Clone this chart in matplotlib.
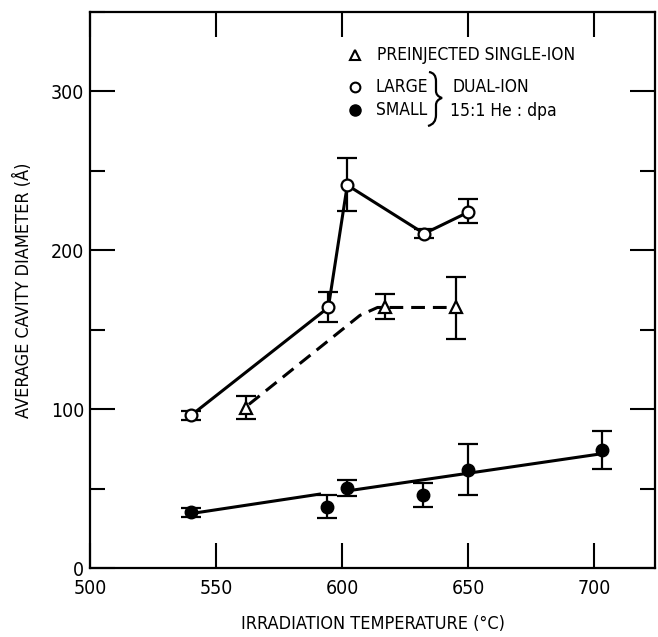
import numpy as np
import matplotlib
matplotlib.use("Agg")
import matplotlib.pyplot as plt
from matplotlib.path import Path
from matplotlib.patches import PathPatch
from matplotlib.ticker import MultipleLocator

plt.rcParams['font.family'] = ['DejaVu Sans']
plt.rcParams['font.stretch'] = 'condensed'

# preinjected single-ion (open triangles)
pre_T = [562, 617, 645]
pre_D = [101, 164.5, 164]
pre_err = [[7, 8, 20], [7, 8, 19]]
pre_curve_T = [563, 607, 614, 644]
pre_curve_D = [103, 159, 164, 164]

# dual-ion, large cavities (open circles)
large_T = [540, 594.5, 602, 632.5, 650]
large_D = [96, 164, 241, 210.5, 224]
large_err = [[3, 9, 16, 3, 7], [3, 10, 17, 3, 8]]

# dual-ion, small cavities (filled circles) and their straight-line fit
small_T = [540, 594, 602, 632, 650, 703]
small_D = [35, 38.5, 50.5, 46, 62, 74]
small_err = [[3, 7, 5, 7.5, 16, 11.5], [3, 7.5, 5, 7.5, 16, 12]]
small_fit_T = [541, 591, np.nan, 604, 701]
small_fit_D = [34.5, 46.5, np.nan, 49, 71.5]

x_ticks = [500, 550, 600, 650, 700]
y_ticks = [0, 100, 200, 300]

fig = plt.figure(figsize=(6.58, 6.37), dpi=100)
ax = fig.add_axes([0.1368, 0.1083, 0.9954 - 0.1368, 0.9812 - 0.1083])

lw = 2.2
ax.plot(large_T, large_D, '-', color='k', lw=lw, zorder=2)
ax.plot(pre_curve_T, pre_curve_D, '-', color='k', lw=lw, dashes=(4.5, 2.6), zorder=2)
ax.plot(small_fit_T, small_fit_D, '-', color='k', lw=lw, zorder=2)

ekw = dict(fmt='none', ecolor='k', elinewidth=1.6, capsize=7, capthick=1.6, zorder=3)
ax.errorbar(pre_T, pre_D, yerr=pre_err, **ekw)
ax.errorbar(large_T, large_D, yerr=large_err, **ekw)
ax.errorbar(small_T, small_D, yerr=small_err, **ekw)

ax.plot(pre_T, pre_D, '^', ms=8.5, mfc='white', mec='k', mew=1.6, ls='none', zorder=4)
ax.plot(large_T, large_D, 'o', ms=8.5, mfc='white', mec='k', mew=1.6, ls='none', zorder=4)
ax.plot(small_T, small_D, 'o', ms=9, mfc='k', mec='k', ls='none', zorder=4)

ax.set_xlim(500, 724)
ax.set_ylim(0, 350)
ax.set_xticks(x_ticks)
ax.set_yticks(y_ticks)
ax.yaxis.set_minor_locator(MultipleLocator(50))
ax.tick_params(which='both', direction='in', top=True, right=True, width=1.5)
ax.tick_params(which='major', length=18, labelsize=14)
ax.tick_params(which='minor', length=11)
ax.tick_params(axis='x', pad=8)
ax.tick_params(axis='y', pad=4)
for s in ax.spines.values():
    s.set_linewidth(1.6)

ax.set_xlabel('IRRADIATION TEMPERATURE (°C)', fontsize=13, labelpad=12)
ax.set_ylabel('AVERAGE CAVITY DIAMETER (Å)', fontsize=13, labelpad=13)

# key drawn inside the axes, with a brace joining the two dual-ion entries
tr = ax.transAxes
ax.plot([0.469], [0.923], '^', ms=7, mfc='white', mec='k', mew=1.5, transform=tr)
ax.plot([0.469], [0.865], 'o', ms=7, mfc='white', mec='k', mew=1.5, transform=tr)
ax.plot([0.469], [0.824], 'o', ms=8, mfc='k', mec='k', transform=tr)
ax.text(0.508, 0.923, 'PREINJECTED SINGLE-ION', fontsize=12.5, va='center', transform=tr)
ax.text(0.506, 0.865, 'LARGE', fontsize=12.5, va='center', transform=tr)
ax.text(0.506, 0.824, 'SMALL', fontsize=12.5, va='center', transform=tr)
ax.text(0.641, 0.865, 'DUAL-ION', fontsize=12.5, va='center', transform=tr)
ax.text(0.637, 0.822, '15:1 He : dpa', fontsize=12.5, va='center', transform=tr)


def px(x, y):
    # pixel position inside the plot frame -> axes fraction
    return ((x - 90) / 565.0, (568 - y) / 556.0)


brace = [px(429, 72), px(436, 73), px(436, 81),
         px(436, 91), px(436, 96), px(442, 98),
         px(436, 100), px(436, 105), px(436, 115),
         px(436, 124), px(428, 126)]
codes = [Path.MOVETO, Path.CURVE3, Path.CURVE3,
         Path.LINETO, Path.CURVE3, Path.CURVE3,
         Path.CURVE3, Path.CURVE3, Path.LINETO,
         Path.CURVE3, Path.CURVE3]
ax.add_patch(PathPatch(Path(brace, codes), fc='none', ec='k', lw=1.6,
                       transform=tr, clip_on=False))

fig.savefig('out.png', dpi=100)
